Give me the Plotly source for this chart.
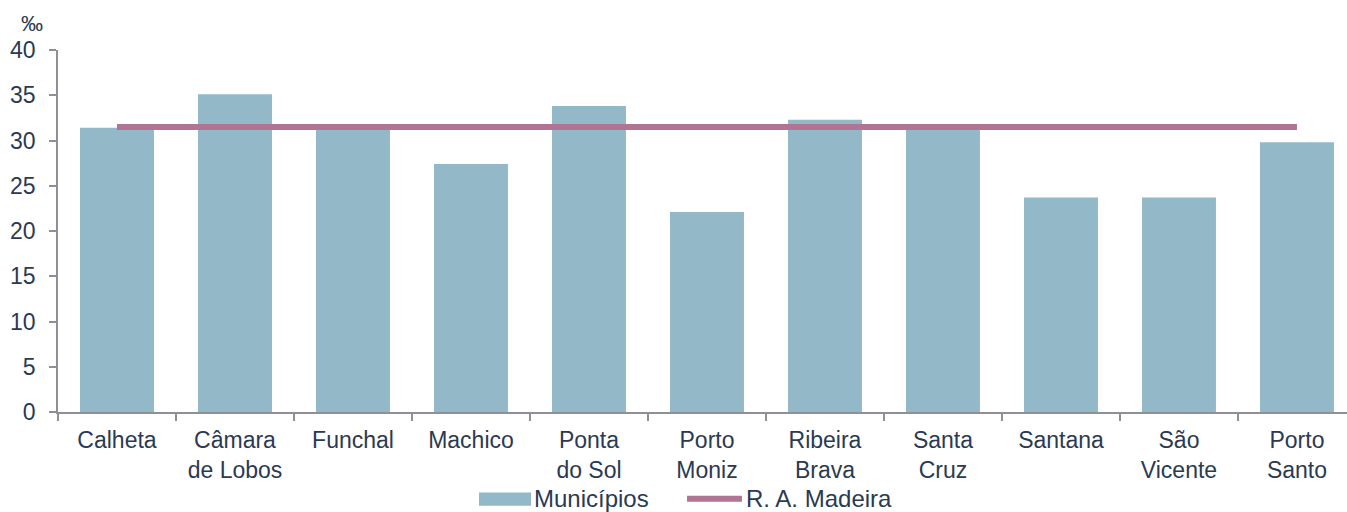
import plotly.graph_objects as go

categories = ["Calheta", "Câmara<br>de Lobos", "Funchal", "Machico", "Ponta<br>do Sol",
              "Porto<br>Moniz", "Ribeira<br>Brava", "Santa<br>Cruz", "Santana",
              "São<br>Vicente", "Porto<br>Santo"]
municipios = [31.4, 35.1, 31.3, 27.4, 33.8, 22.1, 32.3, 31.6, 23.7, 23.7, 29.8]
madeira = [31.5] * len(categories)
series_names = ["Municípios", "R. A. Madeira"]

text_color = "#2b3a52"
axis_color = "#8e9096"
bar_color = "#93b9c8"
line_color = "#b07593"
font = "Liberation Sans, Arial, sans-serif"

fig = go.Figure()
fig.add_trace(go.Bar(x=categories, y=municipios, name=series_names[0], showlegend=False,
                     marker=dict(color=bar_color, line=dict(width=0)), width=0.627))
fig.add_trace(go.Scatter(x=categories, y=madeira, name=series_names[1], mode="lines",
                         showlegend=False, line=dict(color=line_color, width=6)))

# custom legend (paper coordinates), so it sits below the axis labels like the original
ly = -0.2397
legend_shapes = [
    dict(type="rect", xref="paper", yref="paper", x0=0.3266, x1=0.3670, y0=ly - 0.0193, y1=ly + 0.0174,
         fillcolor=bar_color, line=dict(width=0)),
    dict(type="line", xref="paper", yref="paper", x0=0.488, x1=0.5306, y0=ly, y1=ly,
         line=dict(color=line_color, width=6)),
]
legend_texts = [
    dict(text=series_names[0], xref="paper", yref="paper", x=0.3675, y=ly,
         xanchor="left", yanchor="middle", showarrow=False,
         font=dict(size=24, color=text_color)),
    dict(text=series_names[1], xref="paper", yref="paper", x=0.5325, y=ly,
         xanchor="left", yanchor="middle", showarrow=False,
         font=dict(size=24, color=text_color)),
]

fig.update_layout(
    width=1347, height=512,
    margin=dict(l=58, r=0, t=50, b=99.5),
    plot_bgcolor="white", paper_bgcolor="white",
    font=dict(family=font, size=22, color=text_color),
    bargap=0.373,
    showlegend=False,
    xaxis=dict(range=[-0.5, 10.424], showline=True, linecolor=axis_color, linewidth=1.5,
               ticks="outside", tickson="boundaries", ticklen=7, tickcolor=axis_color,
               tickwidth=1.5, showgrid=False, tickfont=dict(size=23, color=text_color),
               ticklabelstandoff=7, automargin=False, fixedrange=True),
    yaxis=dict(range=[0, 40], dtick=5, showline=True, linecolor=axis_color, linewidth=1.5,
               ticks="outside", ticklen=7, tickcolor=axis_color, tickwidth=1.5,
               showgrid=False, zeroline=False, tickfont=dict(size=23, color=text_color),
               ticklabelstandoff=9, automargin=False, fixedrange=True),
    shapes=legend_shapes,
    annotations=[dict(text="‰", xref="paper", yref="paper", x=-0.02, y=1.074,
                      xanchor="center", yanchor="middle", showarrow=False,
                      font=dict(size=22, color=text_color))] + legend_texts,
)

fig.write_html("out.html", post_script="document.body.style.margin='0';",
               config={"displayModeBar": False})
